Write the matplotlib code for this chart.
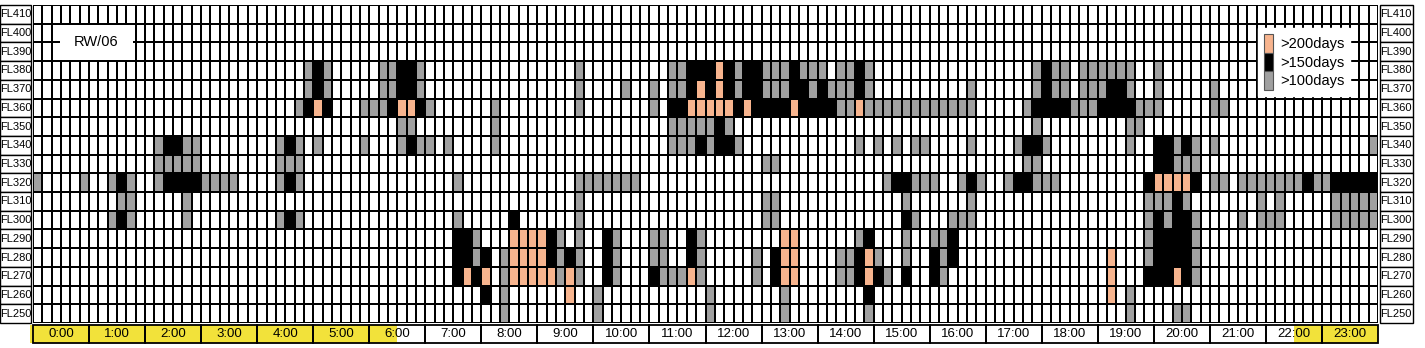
import numpy as np
import matplotlib
matplotlib.use('Agg')
import matplotlib.pyplot as plt
from matplotlib.colors import ListedColormap
from matplotlib.patches import Rectangle, Patch

# flight levels, top to bottom
levels = ['FL410', 'FL400', 'FL390', 'FL380', 'FL370', 'FL360', 'FL350', 'FL340', 'FL330',
          'FL320', 'FL310', 'FL300', 'FL290', 'FL280', 'FL270', 'FL260', 'FL250']
hours = ['%d:00' % h for h in range(24)]
legend_labels = ['>200days', '>150days', '>100days']
runway = 'RW/06'
night_until = 39      # 10-min slot where the yellow (night) band ends  (6:30)
night_from = 135      # 10-min slot where it starts again (22:30)

# one string of 6 ten-minute slots per hour: . none, g >100days, b >150days, s >200days
cells = {
    'FL380': {4: '.....g', 5: 'bg....', 6: '.ggbbg', 9: '....g.', 11: '..ggbb', 12: 'bsbgbb',
              13: 'gggbgg', 14: 'g.ggbg', 17: '.....g', 18: 'bgg.gg', 19: 'gggg..', 20: 'g.....'},
    'FL370': {4: '.....g', 5: 'bg....', 6: '.ggbbg', 9: '....g.', 10: '...g..', 11: 'g.ggbs',
              12: 'bsbgbb', 13: 'gggbbg', 14: 'bgggbg', 16: '....g.', 17: '.....g', 18: 'bgg.gg',
              19: 'gbbg..', 20: 'g.....', 21: 'g.....'},
    'FL360': {4: '....gb', 5: 'sb...g', 6: 'ggbssb', 7: 'g.....', 8: '.g....', 9: '....g.',
              11: 'g.bbss', 12: 'sssbsb', 13: 'bbbsbb', 14: 'bbggsg', 15: 'gggggg', 16: 'ggggg.',
              17: '....gb', 18: 'bbbggg', 19: 'bbbbgg', 20: 'g.....', 21: 'gg....'},
    'FL350': {6: '...gg.', 8: '.g....', 11: '..gggg', 12: 'gbg...', 17: '.....g', 19: '...gg.'},
    'FL340': {2: '.gbbgg', 4: '..gbg.', 5: 'g....g', 6: '...gbg', 7: 'g.g...', 8: '.g....',
              11: '..gggb', 12: 'gbbg..', 14: '....g.', 15: 'g.g.gg', 16: '....g.', 17: '...gbb',
              18: 'g.....', 19: '...g..', 20: 'bbgbg.', 21: 'g.....', 23: '.....g'},
    'FL330': {2: '.ggggg', 4: '..ggg.', 13: 'gg....', 17: '....gg', 20: 'bbggg.'},
    'FL320': {0: 'g....g', 1: '..gbg.', 2: '.gbbbb', 3: 'gggg..', 4: '..gbg.', 7: '...g..',
              9: '....gg', 10: 'ggggg.', 15: '.gbbgg', 16: 'g..gbg', 17: '..gbbg', 18: 'gg....',
              19: '.....b', 20: 'ssssb.', 21: 'gg.ggg', 22: 'ggggbg', 23: 'gbbbbb'},
    'FL310': {1: '...gg.', 2: '....g.', 9: '....g.', 13: 'gg....', 15: '...g..', 16: '....g.',
              19: '.....g', 20: 'ggbg..', 21: '.....g', 22: '.g....', 23: '.ggggg'},
    'FL300': {1: '..gbg.', 2: '....g.', 4: '..gbg.', 7: '...g..', 8: '...b..', 9: '....g.',
              13: 'gg....', 15: '...bg.', 16: '..ggg.', 19: '.....g', 20: 'bgbbg.', 21: '...g.g',
              22: 'gg....', 23: '.ggggg'},
    'FL290': {7: '...bbg', 8: '...sss', 9: 'sbg.g.', 10: '.bg...', 11: 'gg..bg', 13: '..ss..',
              14: '....gb', 15: '...g..', 16: 'ggb...', 19: '.....g', 20: 'bbbbg.'},
    'FL280': {7: '...bbg', 8: 'b.gsss', 9: 'sbgbg.', 10: '.bg...', 11: 'gg..bg', 12: '.....g',
              13: '.bss..', 14: '..ggbs', 15: 'g..g..', 16: 'bgb...', 19: '.s...g', 20: 'bbbbg.'},
    'FL270': {7: '...bsb', 8: 's.gsss', 9: 'ssgsg.', 10: '.bg...', 11: 'bgggsg', 12: '.....g',
              13: '.bss..', 14: '..ggbs', 15: 'bg.b..', 16: 'bg....', 19: '.s...b', 20: 'bbsbg.'},
    'FL260': {8: 'b.g...', 9: '...s..', 10: 'g.....', 12: 'g.....', 13: '..g...', 14: '.....b',
              19: '.s.g..'},
    'FL250': {8: '..g...', 10: 'g.....', 12: 'g.....', 13: '..g...', 14: '.....g', 19: '...g..',
              20: '..gg..'},
}

code = {'.': 0, 'g': 1, 'b': 2, 's': 3}
grid = np.zeros((len(levels), 24 * 6), dtype=int)
for i, lv in enumerate(levels):
    for h, grp in cells.get(lv, {}).items():
        for k, ch in enumerate(grp):
            grid[i, h * 6 + k] = code[ch]

white, gray, black, salmon = '#FFFFFF', '#A0A0A0', '#000000', '#F7B48E'
yellow = '#F2E23A'
cmap = ListedColormap([white, gray, black, salmon])

fig = plt.figure(figsize=(14.25, 3.48), dpi=100)
ax = fig.add_axes([33 / 1425, 25 / 348, 1345 / 1425, 318 / 348])
nrow, ncol = grid.shape
ax.pcolormesh(np.arange(ncol + 1), np.arange(nrow + 1), grid[::-1], cmap=cmap,
              vmin=-0.5, vmax=3.5, edgecolors='black', linewidth=1.3)
ax.set_xlim(0, ncol)
ax.set_ylim(0, nrow)
ax.axis('off')

txt_font = ['Liberation Sans', 'DejaVu Sans']

# hour boxes under the grid, night hours in yellow
yb, hb = -1.07, 0.96
ax.add_patch(Rectangle((-0.3, yb), night_until + 0.3, hb, facecolor=yellow, edgecolor='none', clip_on=False))
ax.add_patch(Rectangle((night_from, yb), ncol - night_from, hb, facecolor=yellow, edgecolor='none', clip_on=False))
for h, lab in enumerate(hours):
    ax.add_patch(Rectangle((h * 6, yb), 6, hb, facecolor='none', edgecolor='black', lw=1.3, clip_on=False))
    ax.text(h * 6 + 3, yb + hb / 2, lab, ha='center', va='center', fontsize=9.5,
            family=txt_font, clip_on=False)

# flight level labels on both sides
for i, lv in enumerate(levels):
    y = nrow - 1 - i
    ax.add_patch(Rectangle((-3.53, y), 3.32, 1, facecolor='white', edgecolor='black', lw=1.0, clip_on=False))
    ax.text(-1.87, y + 0.5, lv, ha='center', va='center', fontsize=8, family=txt_font, clip_on=False)
    ax.add_patch(Rectangle((144.2, y), 3.5, 1, facecolor='white', edgecolor='black', lw=1.0, clip_on=False))
    ax.text(145.95, y + 0.5, lv, ha='center', va='center', fontsize=8, family=txt_font, clip_on=False)

# runway tag
ax.add_patch(Rectangle((2.9, 14.06), 7.8, 1.88, facecolor='white', edgecolor='none', zorder=3))
ax.text(6.8, 15.0, runway, ha='center', va='center', fontsize=10.5, family=txt_font, zorder=4)

handles = [Patch(facecolor=c, edgecolor='#555555', lw=0.8) for c in (salmon, black, gray)]
leg = ax.legend(handles, legend_labels, loc='upper left', bbox_to_anchor=(0.9108, 0.9277),
                borderaxespad=0, handlelength=0.65, handleheight=1.6,
                handletextpad=0.45, labelspacing=0.0, borderpad=0.4, fancybox=False,
                framealpha=1, edgecolor='white', prop={'family': txt_font, 'size': 10.5})
leg.set_zorder(5)

fig.savefig('out.png', dpi=100)
